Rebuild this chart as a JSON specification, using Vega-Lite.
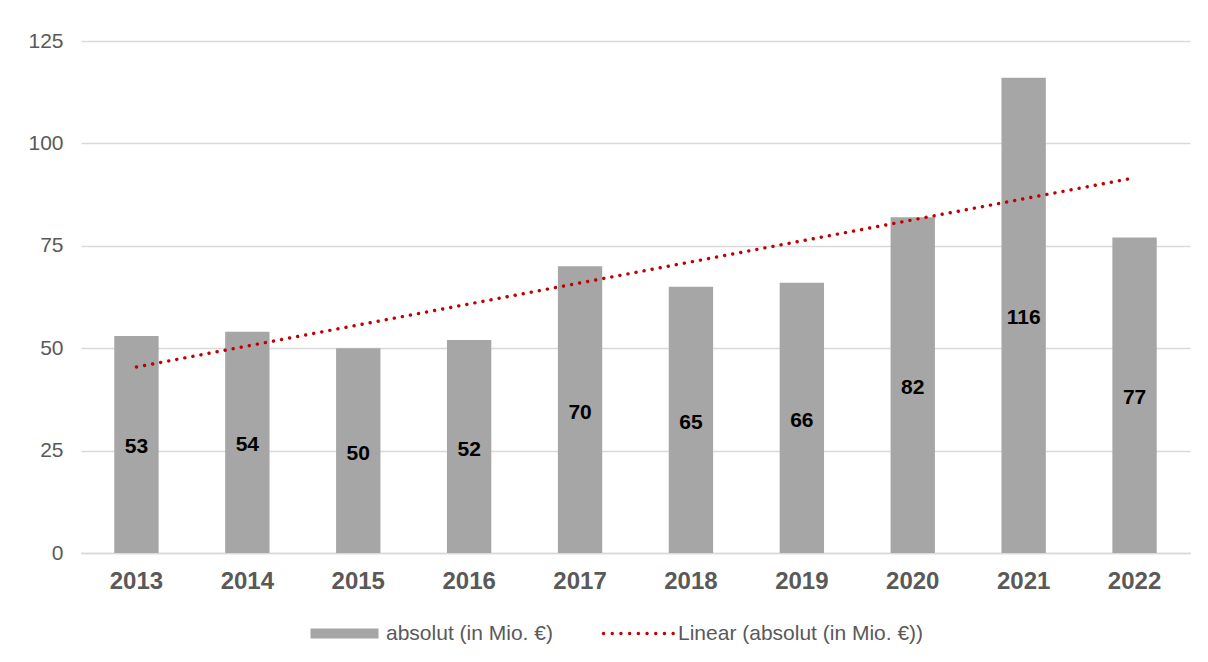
{
  "$schema": "https://vega.github.io/schema/vega-lite/v6.json",
  "autosize": "none",
  "width": 1109,
  "height": 512,
  "padding": {"left": 81, "top": 41, "right": 18, "bottom": 109},
  "background": "white",
  "config": {
    "font": "Liberation Sans",
    "view": {"stroke": null},
    "axis": {"labelColor": "#595959", "labelFont": "Liberation Sans"},
    "legend": {
      "labelColor": "#595959",
      "labelFont": "Liberation Sans",
      "labelFontSize": 21,
      "labelLimit": 500,
      "padding": 0
    }
  },
  "data": {
    "values": [
      {"year": 2013, "value": 53},
      {"year": 2014, "value": 54},
      {"year": 2015, "value": 50},
      {"year": 2016, "value": 52},
      {"year": 2017, "value": 70},
      {"year": 2018, "value": 65},
      {"year": 2019, "value": 66},
      {"year": 2020, "value": 82},
      {"year": 2021, "value": 116},
      {"year": 2022, "value": 77}
    ]
  },
  "encoding": {
    "x": {
      "field": "year",
      "type": "ordinal",
      "scale": {"paddingInner": 0.6, "paddingOuter": 0.3},
      "axis": {
        "title": null,
        "labelAngle": 0,
        "labelFontSize": 24,
        "labelFontWeight": "bold",
        "labelPadding": 16,
        "ticks": false,
        "domain": true,
        "domainColor": "#D9D9D9",
        "domainWidth": 1.5
      }
    }
  },
  "layer": [
    {
      "mark": {"type": "bar", "color": "#A6A6A6"},
      "encoding": {
        "y": {
          "field": "value",
          "type": "quantitative",
          "scale": {"domain": [0, 125]},
          "axis": {
            "title": null,
            "values": [0, 25, 50, 75, 100, 125],
            "labelFontSize": 21,
            "labelPadding": 18,
            "ticks": false,
            "domain": false,
            "gridColor": "#D9D9D9",
            "gridWidth": 1.5
          }
        },
        "fill": {
          "datum": "absolut (in Mio. €)",
          "type": "nominal",
          "scale": {"range": ["#A6A6A6"]},
          "legend": {
            "title": null,
            "orient": "none",
            "legendX": 253,
            "legendY": 582,
            "symbolType": "M-5,-0.74H5V0.74H-5Z",
            "symbolSize": 185,
            "symbolStrokeWidth": 0,
            "labelOffset": 31
          }
        }
      }
    },
    {
      "mark": {"type": "text", "fontSize": 21, "fontWeight": "bold", "color": "#000000", "baseline": "middle", "dy": 3},
      "encoding": {
        "y": {
          "field": "value",
          "type": "quantitative",
          "scale": {"domain": [0, 250]},
          "axis": null
        },
        "text": {"field": "value", "type": "quantitative"}
      }
    },
    {
      "transform": [
        {"regression": "value", "on": "year", "method": "linear"}
      ],
      "mark": {
        "type": "line",
        "strokeWidth": 3.4,
        "strokeCap": "round",
        "strokeDash": [0.1, 8.1]
      },
      "encoding": {
        "y": {"field": "value", "type": "quantitative", "scale": {"domain": [0, 125]}, "axis": null},
        "stroke": {
          "datum": "Linear (absolut (in Mio. €))",
          "type": "nominal",
          "scale": {"range": ["#C00000"]},
          "legend": {
            "title": null,
            "orient": "none",
            "legendX": 547,
            "legendY": 582,
            "symbolType": "M-5,0H5",
            "symbolSize": 196,
            "symbolStrokeWidth": 3.4,
            "symbolDash": [0.1, 8.6],
            "labelOffset": 29,
            "encode": {"symbols": {"update": {"strokeCap": {"value": "round"}}}}
          }
        }
      }
    }
  ],
  "resolve": {"scale": {"y": "independent"}, "axis": {"y": "independent"}}
}
